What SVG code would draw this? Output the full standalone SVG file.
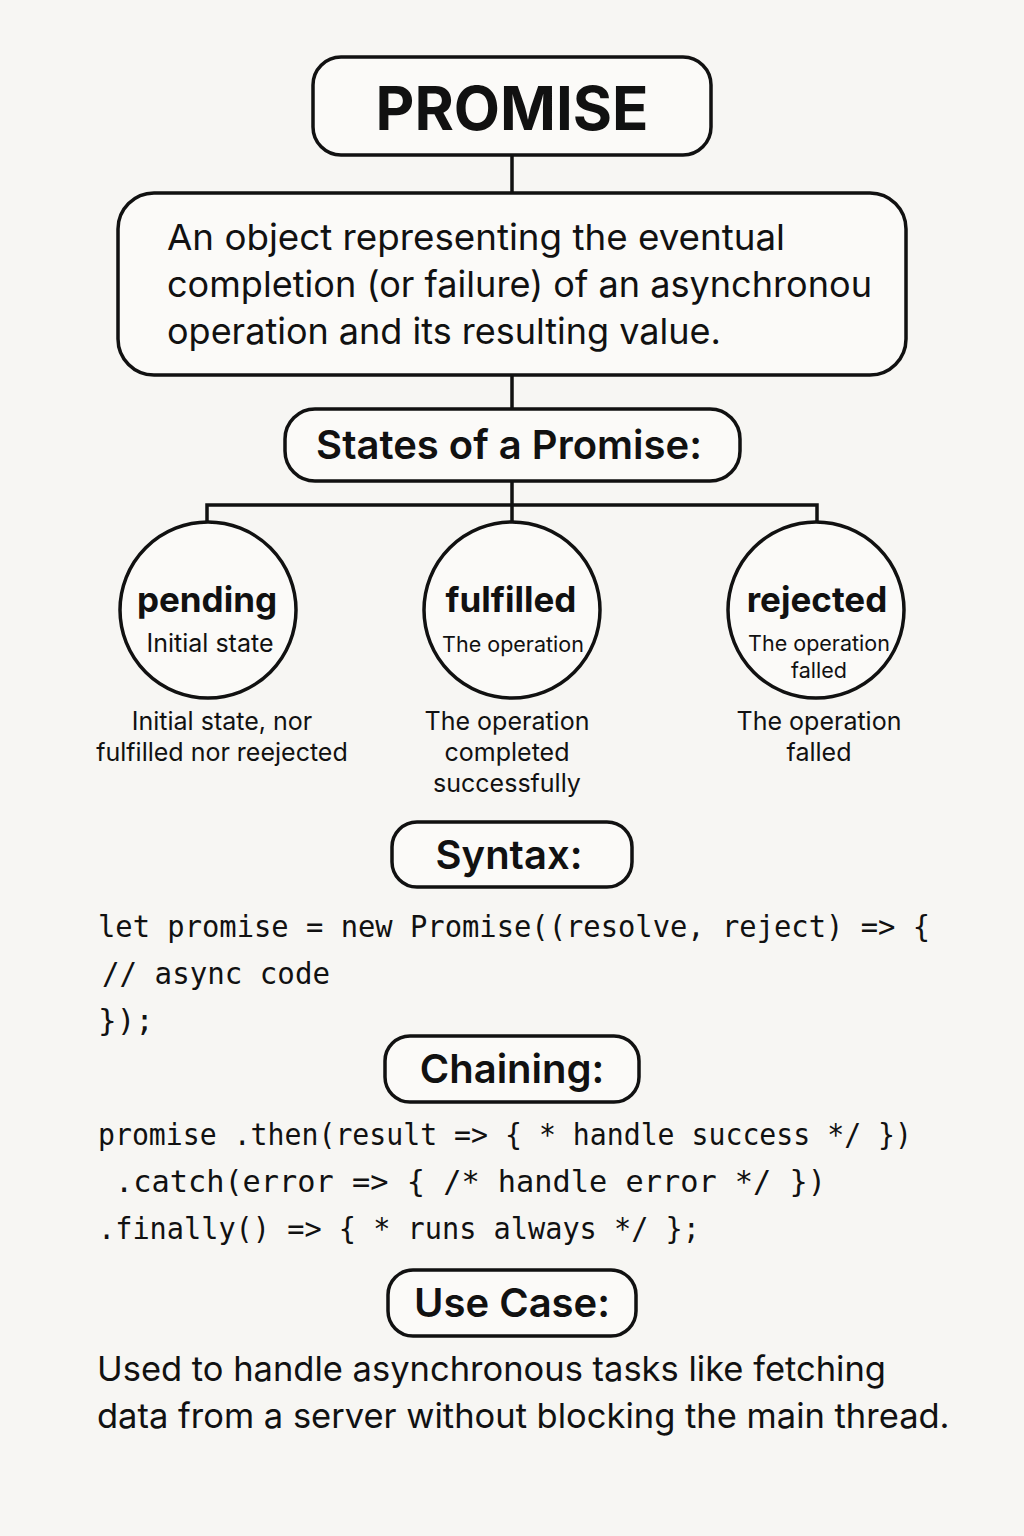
<svg xmlns="http://www.w3.org/2000/svg" width="1024" height="1536" viewBox="0 0 1024 1536">
<style>
.box{fill:#fbfaf8;stroke:#111;stroke-width:3.5}
.ln{stroke:#111;stroke-width:3.5;fill:none}
.sans{font-family:Inter,"Liberation Sans",sans-serif;fill:#111}
.mono{font-family:"DejaVu Sans Mono","Liberation Mono",monospace;fill:#111;font-size:31px}
.hd{font-size:40px;font-weight:600;text-anchor:middle}
.st{font-size:35px;font-weight:700;text-anchor:middle}
.sm{font-size:25px;text-anchor:middle}
.in{font-size:21.5px;text-anchor:middle}
.body{font-size:36px}
.uc{font-size:34.5px}
</style>
<rect width="1024" height="1536" fill="#f7f6f3"/>
<g id="connectors">
<path class="ln" d="M512 155V193M512 375V409M512 481V522M207 522V505H817V522"/>
</g>
<g id="promise">
<rect class="box" x="313" y="57" width="398" height="98" rx="28"/>
<text class="sans" x="512" y="130" font-size="60" font-weight="700" text-anchor="middle">PROMISE</text>
</g>
<g id="definition">
<rect class="box" x="118" y="193" width="788" height="182" rx="36"/>
<text class="sans body" x="167" y="250" textLength="618" lengthAdjust="spacingAndGlyphs">An object representing the eventual</text>
<text class="sans body" x="167" y="297" textLength="705" lengthAdjust="spacingAndGlyphs">completion (or failure) of an asynchronou</text>
<text class="sans body" x="167" y="344">operation and its resulting value.</text>
</g>
<g id="states">
<rect class="box" x="285" y="409" width="455" height="72" rx="30"/>
<text class="sans hd" x="509" y="459">States of a Promise:</text>
</g>
<g id="pending">
<circle class="box" cx="208" cy="610" r="88"/>
<text class="sans st" x="207" y="612">pending</text>
<text class="sans sm" x="210" y="652">Initial state</text>
<text class="sans sm" x="222" y="730">Initial state, nor</text>
<text class="sans sm" x="222" y="761" font-size="25.5">fulfilled nor reejected</text>
</g>
<g id="fulfilled">
<circle class="box" cx="512" cy="610" r="88"/>
<text class="sans st" x="511" y="612">fulfilled</text>
<text class="sans in" x="513" y="652">The operation</text>
<text class="sans sm" x="507" y="730">The operation</text>
<text class="sans sm" x="507" y="761">completed</text>
<text class="sans sm" x="507" y="792">successfully</text>
</g>
<g id="rejected">
<circle class="box" cx="816" cy="610" r="88"/>
<text class="sans st" x="817" y="612">rejected</text>
<text class="sans in" x="819" y="651">The operation</text>
<text class="sans in" x="819" y="678">falled</text>
<text class="sans sm" x="819" y="730">The operation</text>
<text class="sans sm" x="819" y="761">falled</text>
</g>
<g id="syntax">
<rect class="box" x="392" y="822" width="240" height="65" rx="25"/>
<text class="sans hd" x="509" y="869">Syntax:</text>
</g>
<g id="syntax-code">
<text class="mono" x="98" y="937" textLength="832" lengthAdjust="spacingAndGlyphs">let promise = new Promise((resolve, reject) =&gt; {</text>
<text class="mono" x="102" y="984" textLength="228" lengthAdjust="spacingAndGlyphs">// async code</text>
<text class="mono" x="98" y="1031">});</text>
</g>
<g id="chaining">
<rect class="box" x="385" y="1036" width="254" height="66" rx="25"/>
<text class="sans hd" x="512" y="1083">Chaining:</text>
</g>
<g id="chaining-code">
<text class="mono" x="98" y="1145" textLength="814" lengthAdjust="spacingAndGlyphs">promise .then(result =&gt; { * handle success */ })</text>
<text class="mono" x="115" y="1192" textLength="711" lengthAdjust="spacingAndGlyphs">.catch(error =&gt; {  /* handle error */ })</text>
<text class="mono" x="98" y="1239" textLength="602" lengthAdjust="spacingAndGlyphs">.finally() =&gt; { * runs always */ };</text>
</g>
<g id="usecase">
<rect class="box" x="388" y="1270" width="248" height="66" rx="25"/>
<text class="sans hd" x="512" y="1317">Use Case:</text>
</g>
<g id="usecase-text">
<text class="sans uc" x="97" y="1381">Used to handle asynchronous tasks like fetching</text>
<text class="sans uc" x="97" y="1428">data from a server without blocking the main thread.</text>
</g>
</svg>
